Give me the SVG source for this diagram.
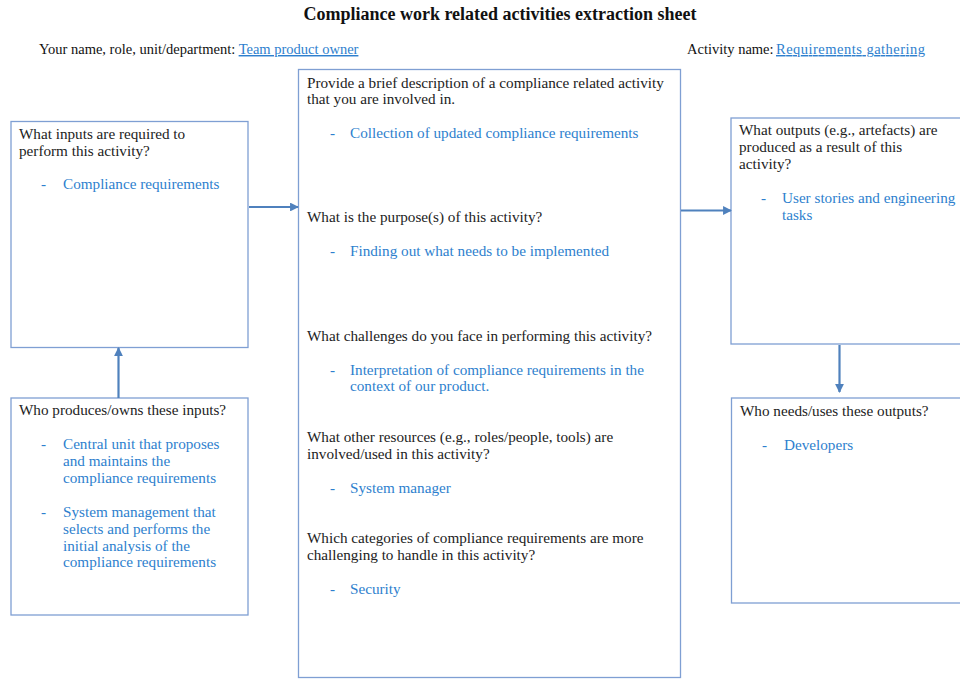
<svg xmlns="http://www.w3.org/2000/svg" width="960" height="679" viewBox="0 0 960 679">
<defs>
<marker id="ah" viewBox="0 0 10 10" refX="9" refY="5" markerWidth="4" markerHeight="4" orient="auto" markerUnits="strokeWidth">
<path d="M0,0 L10,5 L0,10 z" fill="#4f81bd"/>
</marker>
</defs>
<style>
.box{fill:#fff;stroke:#7f9fd3;stroke-width:1.3}
.q{font-family:"Liberation Serif",serif;font-size:15.2px;fill:#222}
.a{font-family:"Liberation Serif",serif;font-size:15.2px;fill:#2e7fce}
.h{font-family:"Liberation Serif",serif;font-size:14.5px;fill:#111}
.lk{font-family:"Liberation Serif",serif;font-size:14.5px;fill:#2e7fce;text-decoration:underline}
.t{font-family:"Liberation Serif",serif;font-size:18px;font-weight:bold;fill:#111}
.c{stroke:#4f81bd;stroke-width:2.2;fill:none;marker-end:url(#ah)}
</style>
<rect width="960" height="679" fill="#fff"/>
<text class="t" x="500" y="20" text-anchor="middle">Compliance work related activities extraction sheet</text>
<text class="h" x="39" y="54">Your name, role, unit/department: <tspan class="lk">Team product owner</tspan></text>
<text class="h" x="687" y="54">Activity name:</text>
<text class="lk" x="776" y="54" textLength="149" lengthAdjust="spacing">Requirements gathering</text>

<g id="inputs">
<rect class="box" x="11" y="121.5" width="237" height="226"/>
<text class="q" x="19" y="139">What inputs are required to</text>
<text class="q" x="19" y="156">perform this activity?</text>
<text class="a" x="41" y="189">-</text>
<text class="a" x="63" y="189">Compliance requirements</text>
</g>

<g id="owners">
<rect class="box" x="11" y="398" width="237" height="217"/>
<text class="q" x="19" y="415">Who produces/owns these inputs?</text>
<text class="a" x="41" y="449">-</text>
<text class="a" x="63" y="449">Central unit that proposes</text>
<text class="a" x="63" y="466">and maintains the</text>
<text class="a" x="63" y="483">compliance requirements</text>
<text class="a" x="41" y="517">-</text>
<text class="a" x="63" y="517">System management that</text>
<text class="a" x="63" y="534">selects and performs the</text>
<text class="a" x="63" y="551">initial analysis of the</text>
<text class="a" x="63" y="567">compliance requirements</text>
</g>

<g id="activity">
<rect class="box" x="298.5" y="69.5" width="382" height="608"/>
<text class="q" x="307" y="88">Provide a brief description of a compliance related activity</text>
<text class="q" x="307" y="104">that you are involved in.</text>
<text class="a" x="330" y="138">-</text>
<text class="a" x="350" y="138">Collection of updated compliance requirements</text>
<text class="q" x="307" y="222">What is the purpose(s) of this activity?</text>
<text class="a" x="330" y="256">-</text>
<text class="a" x="350" y="256">Finding out what needs to be implemented</text>
<text class="q" x="307" y="341">What challenges do you face in performing this activity?</text>
<text class="a" x="330" y="375">-</text>
<text class="a" x="350" y="375">Interpretation of compliance requirements in the</text>
<text class="a" x="350" y="391">context of our product.</text>
<text class="q" x="307" y="442">What other resources (e.g., roles/people, tools) are</text>
<text class="q" x="307" y="459">involved/used in this activity?</text>
<text class="a" x="330" y="493">-</text>
<text class="a" x="350" y="493">System manager</text>
<text class="q" x="307" y="543">Which categories of compliance requirements are more</text>
<text class="q" x="307" y="560">challenging to handle in this activity?</text>
<text class="a" x="330" y="594">-</text>
<text class="a" x="350" y="594">Security</text>
</g>

<g id="outputs">
<rect class="box" x="731" y="118" width="240" height="226"/>
<text class="q" x="739" y="135">What outputs (e.g., artefacts) are</text>
<text class="q" x="739" y="152">produced as a result of this</text>
<text class="q" x="739" y="169">activity?</text>
<text class="a" x="761" y="203">-</text>
<text class="a" x="782" y="203">User stories and engineering</text>
<text class="a" x="782" y="220">tasks</text>
</g>

<g id="users">
<rect class="box" x="731.5" y="398" width="240" height="205"/>
<text class="q" x="740" y="416">Who needs/uses these outputs?</text>
<text class="a" x="762" y="450">-</text>
<text class="a" x="784" y="450">Developers</text>
</g>

<g id="connectors">
<line class="c" x1="249" y1="207" x2="298" y2="207"/>
<line class="c" x1="681" y1="210.5" x2="731" y2="210.5"/>
<line class="c" x1="118.5" y1="398" x2="118.5" y2="348"/>
<line class="c" x1="839.5" y1="345" x2="839.5" y2="392"/>
</g>
</svg>
